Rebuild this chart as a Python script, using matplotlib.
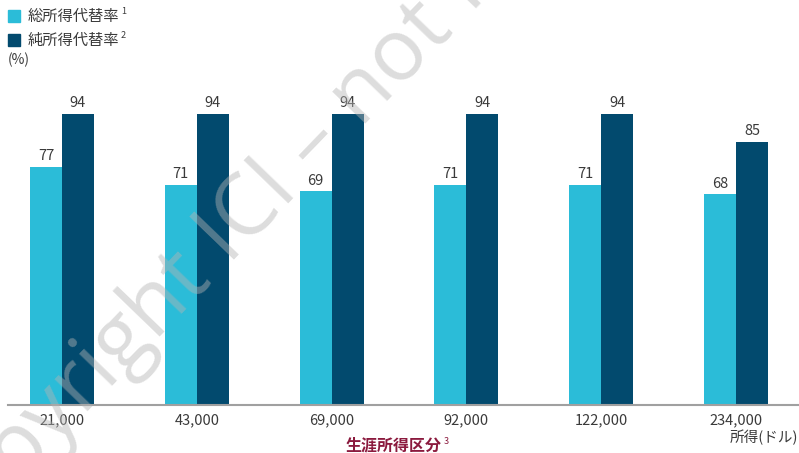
import matplotlib
matplotlib.use("Agg")
import matplotlib.pyplot as plt
from matplotlib.patches import Rectangle
import numpy as np

plt.rcParams['font.family'] = ['Noto Sans CJK JP', 'DejaVu Sans']

# 生涯所得区分（ドル）ごとの所得代替率
income_levels = ["21,000", "43,000", "69,000", "92,000", "122,000", "234,000"]
gross_rate = [77, 71, 69, 71, 71, 68]
net_rate = [94, 94, 94, 94, 94, 85]

cyan = "#2bbcd8"
navy = "#024a6e"
text_grey = "#3a3a3a"

fig = plt.figure(figsize=(7.99, 4.53), dpi=100)
W, H = 799, 453
ax = fig.add_axes([8 / W, 48 / H, 790 / W, 309.6 / H])

x = np.arange(len(income_levels))
w = 0.237
b1 = ax.bar(x - w / 2, gross_rate, w, color=cyan, zorder=2)
b2 = ax.bar(x + w / 2, net_rate, w, color=navy, zorder=2)

for bars, vals in ((b1, gross_rate), (b2, net_rate)):
    for r, v in zip(bars, vals):
        ax.text(r.get_x() + r.get_width() / 2, v + 1.2, str(v),
                ha="center", va="bottom", fontsize=10.5, color=text_grey)

ax.set_xlim(-0.4006, 5.46)
ax.set_ylim(0, 100)
for s in ["top", "right", "left"]:
    ax.spines[s].set_visible(False)
ax.spines["bottom"].set_color("#a0a0a0")
ax.spines["bottom"].set_linewidth(1.5)
ax.set_yticks([])
ax.set_xticks(x)
ax.set_xticklabels(income_levels, fontsize=10.5, color=text_grey)
ax.tick_params(axis="x", length=0, pad=6)

# 凡例
for i, (c, lab, sup) in enumerate([(cyan, "総所得代替率", "1"), (navy, "純所得代替率", "2")]):
    y = H - 16 - 24 * i
    fig.patches.append(Rectangle((8 / W, (y - 6) / H), 12 / W, 12 / H,
                                 transform=fig.transFigure, color=c))
    fig.text(28 / W, y / H, lab, fontsize=11, color=text_grey, va="center")
    fig.text(121 / W, (y + 4) / H, sup, fontsize=6.5, color=text_grey, va="center")
fig.text(8 / W, (H - 60) / H, "(%)", fontsize=10, color=text_grey, va="center")

# 軸ラベル
fig.text(798 / W, (H - 437) / H, "所得(ドル)", fontsize=10.5, color=text_grey,
         ha="right", va="center")
fig.text(394 / W, (H - 445) / H, "生涯所得区分", fontsize=11.5, color="#8b1a3e",
         ha="center", va="center", fontweight="bold")
fig.text(444 / W, (H - 441) / H, "3", fontsize=6.5, color="#8b1a3e", va="center")

# 透かし（グラフの上に半透明で重ねる）
fig.text(400 / W, (H - 55) / H, "Copyright ICI – not for distribution", fontsize=62,
         color="#b4b4b4", alpha=0.45, rotation=46, ha="center", va="center",
         family="Open Sans", zorder=10)

fig.savefig("out.png", dpi=100)
